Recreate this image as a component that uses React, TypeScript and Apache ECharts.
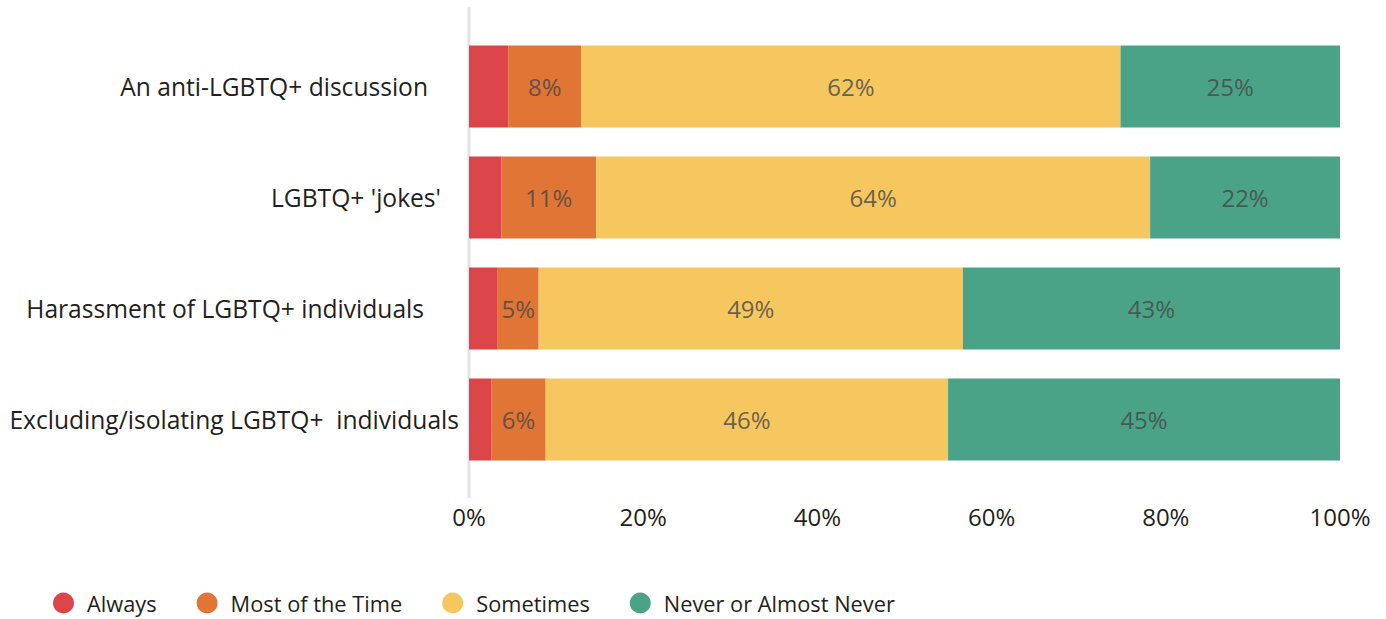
import React, { useEffect, useRef } from "react";
import * as echarts from "echarts";

const categories = [
  "An anti-LGBTQ+ discussion",
  "LGBTQ+ 'jokes'",
  "Harassment of LGBTQ+ individuals",
  "Excluding/isolating LGBTQ+  individuals",
];
const seriesNames = ["Always", "Most of the Time", "Sometimes", "Never or Almost Never"];
const always = [4.5, 3.7, 3.3, 2.6];
const mostOfTheTime = [8.4, 10.9, 4.7, 6.2];
const sometimes = [61.9, 63.6, 48.7, 46.2];
const never = [25.3, 21.8, 43.3, 45.0];
const xTicks = [0, 20, 40, 60, 80, 100];

const colors = ["#db4549", "#e07535", "#f5c75e", "#4aa386"];
const labelPad = [31, 18, 35, 0];
const FONT = "Open Sans";

export default function App() {
  const ref = useRef<HTMLDivElement>(null);
  useEffect(() => {
    if (!ref.current) return;
    const chart = echarts.init(ref.current, null, { renderer: "svg" });
    const values = [always, mostOfTheTime, sometimes, never];
    const rich: any = {};
    labelPad.forEach((p, i) => {
      rich["c" + i] = { fontFamily: FONT, fontSize: 24.6, color: "#231f20", padding: [0, p, 0, 0] };
    });
    chart.setOption({
      animation: false,
      textStyle: { fontFamily: FONT },
      grid: { left: 469, right: 46, top: 31, height: 444, containLabel: false },
      xAxis: {
        type: "value",
        min: 0,
        max: 100,
        interval: 20,
        axisLine: { show: false },
        axisTick: { show: false },
        splitLine: { show: false },
        axisLabel: {
          margin: 29,
          fontSize: 24,
          color: "#231f20",
          fontFamily: FONT,
          formatter: (v: number) => (xTicks.includes(v) ? v + "%" : ""),
        },
      },
      yAxis: {
        type: "category",
        data: categories,
        inverse: true,
        axisLine: { show: false },
        axisTick: { show: false },
        axisLabel: {
          margin: 10,
          formatter: (v: string) => {
            const i = categories.indexOf(v);
            return "{c" + i + "|" + v + "}";
          },
          rich,
        },
      },
      legend: {
        left: 53,
        top: 592,
        padding: 0,
        icon: "circle",
        itemWidth: 21,
        itemHeight: 21,
        itemGap: 40,
        textStyle: {
          fontSize: 21.8,
          lineHeight: 22,
          color: "#231f20",
          fontFamily: FONT,
          padding: [0, 0, 0, 8],
        },
        data: seriesNames,
      },
      graphic: [
        {
          type: "line",
          shape: { x1: 469, y1: 7, x2: 469, y2: 498 },
          style: { stroke: "#e3e3e3", lineWidth: 3 },
          z: 0,
        },
      ],
      series: seriesNames.map((name, si) => ({
        name,
        type: "bar",
        stack: "total",
        barCategoryGap: "26%",
        itemStyle: { color: colors[si] },
        data: values[si],
        label: {
          show: si > 0,
          position: "inside",
          fontSize: 24,
          fontFamily: FONT,
          color: "rgba(70,70,70,0.8)",
          formatter: (p: any) => Math.round(p.value) + "%",
        },
        z: 2,
      })),
    });
    return () => chart.dispose();
  }, []);
  return <div ref={ref} style={{ width: 1386, height: 619, position: "absolute", left: 0, top: 0 }} />;
}
